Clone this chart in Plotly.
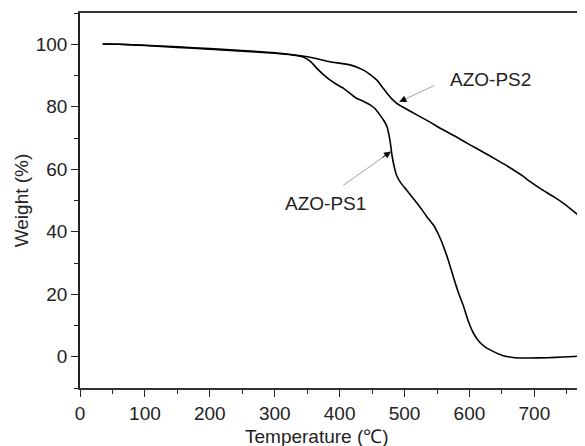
import plotly.graph_objects as go

# ---- data ----
temp_ps1 = [35, 60, 100, 150, 200, 250, 300, 335, 345, 355, 365, 375, 385, 395, 406, 416,
            426, 437, 447, 455, 462, 468, 473, 476, 478, 481, 485, 488, 495, 503, 511, 519,
            527, 534, 539, 545, 553, 560, 568, 575, 583, 591, 598, 606, 615, 625, 632, 645,
            657, 670, 693, 720, 745, 778, 790]
weight_ps1 = [100.1, 100.0, 99.6, 99.0, 98.4, 97.8, 97.1, 96.3, 95.8, 94.5, 92.3, 90.3, 88.6,
              87.2, 85.9, 84.3, 82.7, 81.7, 80.6, 79.3, 77.4, 75.6, 73.6, 71.0, 68.6, 64.0,
              60.0, 57.9, 55.4, 53.4, 51.3, 49.2, 47.0, 44.9, 43.6, 42.0, 38.8, 35.3, 30.5,
              25.7, 20.5, 16.1, 11.5, 7.6, 4.8, 3.0, 2.2, 0.9, 0.1, -0.3, -0.4, -0.3, -0.1,
              0.3, 0.4]

temp_ps2 = [35, 60, 100, 150, 200, 250, 300, 340, 360, 385, 416, 436, 447, 457, 465, 473,
            480, 488, 500, 519, 540, 555, 580, 601, 620, 642, 660, 683, 693, 710, 729, 750,
            770, 778, 790]
weight_ps2 = [100.1, 100.0, 99.7, 99.2, 98.6, 98.0, 97.3, 96.3, 95.6, 94.4, 93.4, 91.8, 90.3,
              88.6, 86.5, 84.3, 82.6, 81.1, 79.6, 77.4, 75.0, 73.1, 70.3, 67.8, 65.6, 63.0,
              60.8, 57.7, 56.1, 53.7, 51.3, 48.3, 44.9, 43.5, 41.3]

x_tickvals = [0, 100, 200, 300, 400, 500, 600, 700]
y_tickvals = [0, 20, 40, 60, 80, 100]

FONT = "Liberation Sans, Arial, Helvetica, sans-serif"
TXT = "#222222"

fig = go.Figure()
fig.add_trace(go.Scatter(x=temp_ps1, y=weight_ps1, mode="lines", name="AZO-PS1",
                         line=dict(color="black", width=1.6, shape="spline", smoothing=0.4)))
fig.add_trace(go.Scatter(x=temp_ps2, y=weight_ps2, mode="lines", name="AZO-PS2",
                         line=dict(color="black", width=1.6, shape="spline", smoothing=0.4)))

# labels + arrows
labels = [
    dict(text="AZO-PS2", tx=632.7, ty=88.6, hx=492, hy=81.6, sx=548, sy=87.0),
    dict(text="AZO-PS1", tx=377.5, ty=49.2, hx=479.2, hy=65.7, sx=403.2, sy=54.5),
]
for lb in labels:
    fig.add_annotation(x=lb["tx"], y=lb["ty"], text=lb["text"], showarrow=False,
                       font=dict(family=FONT, size=19, color=TXT))
    # thin gray shaft
    fig.add_annotation(x=lb["hx"], y=lb["hy"], ax=lb["sx"], ay=lb["sy"], axref="x", ayref="y",
                       text="", showarrow=True, arrowhead=0, arrowwidth=0.8,
                       arrowcolor="#888888")
    # black arrow head
    fx = lb["hx"] + (lb["sx"] - lb["hx"]) * 0.2
    fy = lb["hy"] + (lb["sy"] - lb["hy"]) * 0.2
    fig.add_annotation(x=lb["hx"], y=lb["hy"], ax=fx, ay=fy, axref="x", ayref="y",
                       text="", showarrow=True, arrowhead=2, arrowwidth=1.0, arrowsize=1.4,
                       arrowcolor="black")

fig.add_annotation(x=0.47, y=0, xref="paper", yref="paper", yshift=-48, yanchor="middle",
                   text="Temperature (℃)", showarrow=False,
                   font=dict(family=FONT, size=19, color=TXT))

# page body has an 8px default margin, so the figure is sized/offset to compensate
fig.update_layout(
    width=577, height=438,
    margin=dict(l=72, r=0, t=5, b=58),
    paper_bgcolor="white", plot_bgcolor="white",
    showlegend=False,
    font=dict(family=FONT, size=19, color=TXT),
)
fig.update_xaxes(
    range=[0, 778], tickvals=x_tickvals, ticks="outside", ticklen=7, tickwidth=1.3,
    tickcolor="#222", showline=True, linecolor="#333", linewidth=1.6, mirror=True,
    showgrid=False, zeroline=False, automargin=False,
    minor=dict(dtick=50, ticks="outside", ticklen=4, tickwidth=1.2, tickcolor="#222"),
    tickfont=dict(family=FONT, size=19, color=TXT),
)
fig.update_yaxes(
    range=[-10, 110], tickvals=y_tickvals, ticks="outside", ticklen=7, tickwidth=1.3,
    tickcolor="#222", showline=True, linecolor="#222", linewidth=1.6,
    showgrid=False, zeroline=False, automargin=False,
    minor=dict(dtick=10, ticks="outside", ticklen=4, tickwidth=1.2, tickcolor="#222"),
    tickfont=dict(family=FONT, size=19, color=TXT),
    title=dict(text="Weight (%)", font=dict(family=FONT, size=19, color=TXT), standoff=2),
)

fig.write_html("out.html")
